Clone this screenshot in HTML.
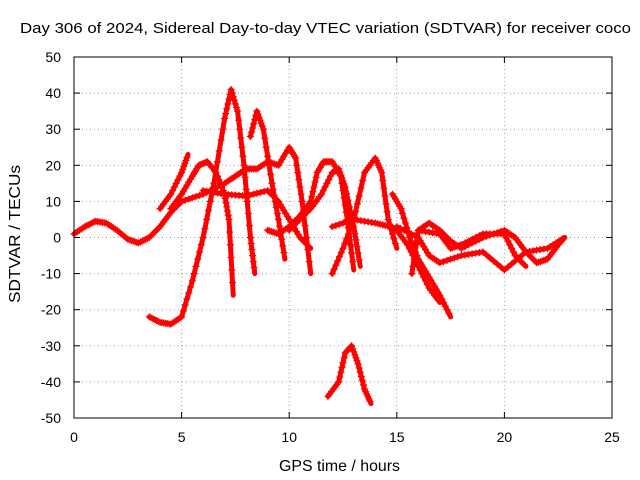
<!DOCTYPE html>
<html><head><meta charset="utf-8"><style>
html,body{margin:0;padding:0;background:#fff}
svg{display:block;font-family:"Liberation Sans",sans-serif}
</style></head><body>
<svg id="chart" width="640" height="480">
<text x="20" y="33" font-size="15" textLength="611" lengthAdjust="spacingAndGlyphs">Day 306 of 2024, Sidereal Day-to-day VTEC variation (SDTVAR) for receiver coco</text>
<text x="279" y="471" font-size="16" textLength="121" lengthAdjust="spacingAndGlyphs">GPS time / hours</text>
<text transform="translate(20,303) rotate(-90)" font-size="16" textLength="138" lengthAdjust="spacingAndGlyphs">SDTVAR / TECUs</text>
<g id="grid"></g>
<g id="series"></g>
<rect x="74" y="57" width="538" height="361" fill="none" stroke="#000" stroke-width="1"/>
<g id="ticks"></g>
</svg>
<script>
const xTicks=[0,5,10,15,20,25];
const yTicks=[-50,-40,-30,-20,-10,0,10,20,30,40,50];
const track1=[[0,1],[0.5,3],[1,4.5],[1.5,4],[2,2],[2.5,-0.5],[3,-1.5],[3.5,0],[4,3],[4.5,7],[5,10]];
const track2=[[4,8],[4.5,12],[5,18],[5.3,23]];
const track3=[[4.5,8],[5,12],[5.5,17],[5.8,20],[6.2,21],[6.6,18],[7,12],[7.2,5],[7.4,-16]];
const track4=[[3.5,-22],[4,-23.5],[4.5,-24],[5,-22],[5.5,-12],[6,0],[6.5,15],[7,33],[7.3,41],[7.6,35],[7.9,20],[8.2,0],[8.4,-10]];
const track5=[[8.2,28],[8.5,35],[8.8,30],[9.2,15],[9.5,5],[9.8,-6]];
const track6=[[5,10],[6,12],[7,15],[7.5,17],[8,19],[8.5,19],[9,21],[9.5,20],[10,25],[10.3,22],[10.6,10],[11,-10]];
const track7=[[6,13],[7,12],[8,11.5],[9,13],[9.5,10],[10,5],[10.5,0],[11,-3]];
const track8=[[9,2],[9.5,1],[10,3],[10.5,6],[11,10],[11.3,18],[11.6,21],[12,21],[12.4,17],[12.7,5],[13,-9]];
const track9=[[10,2],[11,8],[11.5,12],[12,18],[12.3,19],[12.6,14],[13,3],[13.3,-8]];
const track10=[[12,-10],[12.5,-3],[13,5],[13.5,18],[14,22],[14.3,18],[14.6,5],[15,-3]];
const track11=[[11.8,-44],[12.3,-40],[12.6,-32],[12.9,-30],[13.2,-35],[13.5,-42],[13.8,-46]];
const track12=[[12,3],[13,5],[14,4],[14.7,3],[15,2],[15.5,-2],[16,-8],[16.5,-14],[17,-18]];
const track13=[[14.8,12],[15.2,8],[15.6,0],[16,-6],[16.5,-11],[17,-16],[17.5,-22]];
const track14=[[15,3],[16,0],[16.5,-5],[17,-7],[18,-5],[19,-4],[20,-9],[21,-4],[22,-3],[22.8,0]];
const track15=[[15.7,-10],[16,2],[16.5,4],[17,2],[17.5,-1],[18,-3],[19,0],[20,2],[20.5,0],[21,-4],[21.5,-7],[22,-6],[22.5,-2],[22.8,0]];
const track16=[[16,2],[17,1],[17.5,-3],[18,-2],[19,1],[20,1],[20.5,-5],[21,-8]];
const tracks=[track1,track2,track3,track4,track5,track6,track7,track8,track9,track10,track11,track12,track13,track14,track15,track16];

const NS="http://www.w3.org/2000/svg";
const X0=74,X1=612,Y0=418,Y1=57;
const xs=v=>X0+(v-0)/(25-0)*(X1-X0);
const ys=v=>Y0-(v+50)/100*(Y0-Y1);
const grid=document.getElementById('grid'),ticks=document.getElementById('ticks'),ser=document.getElementById('series');
function mk(tag,attrs,parent){const e=document.createElementNS(NS,tag);for(const k in attrs)e.setAttribute(k,attrs[k]);parent.appendChild(e);return e;}
xTicks.forEach(t=>{
  const x=xs(t);
  if(t>0&&t<25){const g=mk('line',{x1:x,x2:x,y1:Y1,y2:Y0,stroke:'#a0a0a0','stroke-dasharray':'1,3'},grid);
  
  }
  mk('line',{x1:x,x2:x,y1:Y0,y2:Y0-6,stroke:'#000'},ticks);
  mk('line',{x1:x,x2:x,y1:Y1,y2:Y1+6,stroke:'#000'},ticks);
  const l=mk('text',{x:x,y:Y0+24,'text-anchor':'middle','font-size':14},ticks);
  l.textContent=t;
  
  
});
yTicks.forEach(t=>{
  const y=ys(t);
  if(t>-50&&t<50){const g=mk('line',{x1:X0,x2:X1,y1:y,y2:y,stroke:'#a0a0a0','stroke-dasharray':'1,3'},grid);
  
  }
  mk('line',{x1:X0,x2:X0+6,y1:y,y2:y,stroke:'#000'},ticks);
  mk('line',{x1:X1,x2:X1-6,y1:y,y2:y,stroke:'#000'},ticks);
  const l=mk('text',{x:X0-13,y:y+5,'text-anchor':'end','font-size':14},ticks);
  l.textContent=t;
  
  
});
tracks.forEach((tr,i)=>{
  const p=mk('polyline',{points:tr.map(d=>xs(d[0])+','+ys(d[1])).join(' '),fill:'none',stroke:'#ff0000','stroke-width':5,'stroke-linejoin':'round','stroke-linecap':'round'},ser);
  
  
  let d='';
  for(let j=0;j<tr.length-1;j++){
    for(let k=0;k<6;k++){
      const f=k/6,t=tr[j][0]+(tr[j+1][0]-tr[j][0])*f,v=tr[j][1]+(tr[j+1][1]-tr[j][1])*f;
      const x=xs(t),y=ys(v);
      d+=`M${x-3.5},${y}h7M${x},${y-3.5}v7`;
    }
  }
  const m=mk('path',{d:d,stroke:'#ff0000','stroke-width':1.2,fill:'none'},ser);
  
  
});
</script>
</body></html>
